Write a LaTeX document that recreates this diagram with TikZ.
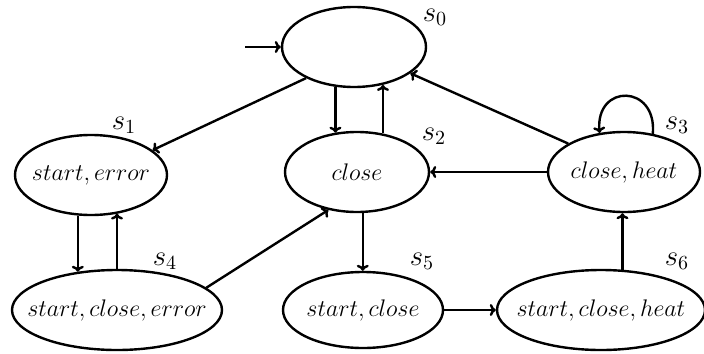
\documentclass[tikz,border=0pt]{standalone}
\usetikzlibrary{shapes.geometric,arrows.meta}
% zero-width box so the ellipse size is set only by its minimum width/height
\newcommand\statetext[1]{\makebox[0pt]{$#1$}}
\begin{document}
\begin{tikzpicture}[x=0.5pt,y=-0.5pt,
  state/.style={ellipse,draw,line width=1.2pt,inner sep=0pt,font=\large},
  tag/.style={font=\Large,inner sep=0pt},
  edge/.style={line width=1.2pt,-{To[length=3pt,width=6pt]}}]
\useasboundingbox (0,0) rectangle (704,353);

% states
\node[state,minimum width=72pt,minimum height=40pt] (s0) at (354,47) {};
\node[state,minimum width=76pt,minimum height=40pt] (s1) at (91,175) {\statetext{start, error}};
\node[state,minimum width=72pt,minimum height=40pt] (s2) at (357,172) {\statetext{close}};
\node[state,minimum width=76pt,minimum height=40pt] (s3) at (624,172) {\statetext{close, heat}};
\node[state,minimum width=105pt,minimum height=40pt] (s4) at (117,310) {\statetext{start, close, error}};
\node[state,minimum width=80pt,minimum height=38pt] (s5) at (363,310) {\statetext{start, close}};
\node[state,minimum width=104pt,minimum height=40pt] (s6) at (601,310) {\statetext{start, close, heat}};

% state names
\node[tag] (l0) at (435,17) {$s_0$};
\node[tag] (l1) at (124,125) {$s_1$};
\node[tag] (l2) at (434,136) {$s_2$};
\node[tag] (l3) at (677,125) {$s_3$};
\node[tag] (l4) at (165,261) {$s_4$};
\node[tag] (l5) at (422,261) {$s_5$};
\node[tag] (l6) at (677,261) {$s_6$};

% transitions
\coordinate (init) at (245,47);
\draw[edge] (init) -- (s0.west);
\draw[edge] (s0.213) -- (s1.22);
\draw[edge] (s0.245) -- (s0.245 |- s2.119);
\draw[edge] (s2.56) -- (s2.56 |- s0.307);
\draw[edge] (s1.252) -- (s1.252 |- s4.136);
\draw[edge] (s4.north) -- (s4.north |- s1.305);
\draw[edge] (s4.14) -- (s2.233);
\draw[edge] (s3.153) -- (s0.335);
\draw[edge] (s3.west) -- (s2.east);
\draw[edge] (s3.53) to[out=85,in=95,looseness=2.4] (s3.122);
\draw[edge] (s2.278) -- (s2.278 |- s5.north);
\draw[edge] (s5.east) -- (s6.west);
\draw[edge] (s6.62) -- (s6.62 |- s3.south);
\end{tikzpicture}
\end{document}
